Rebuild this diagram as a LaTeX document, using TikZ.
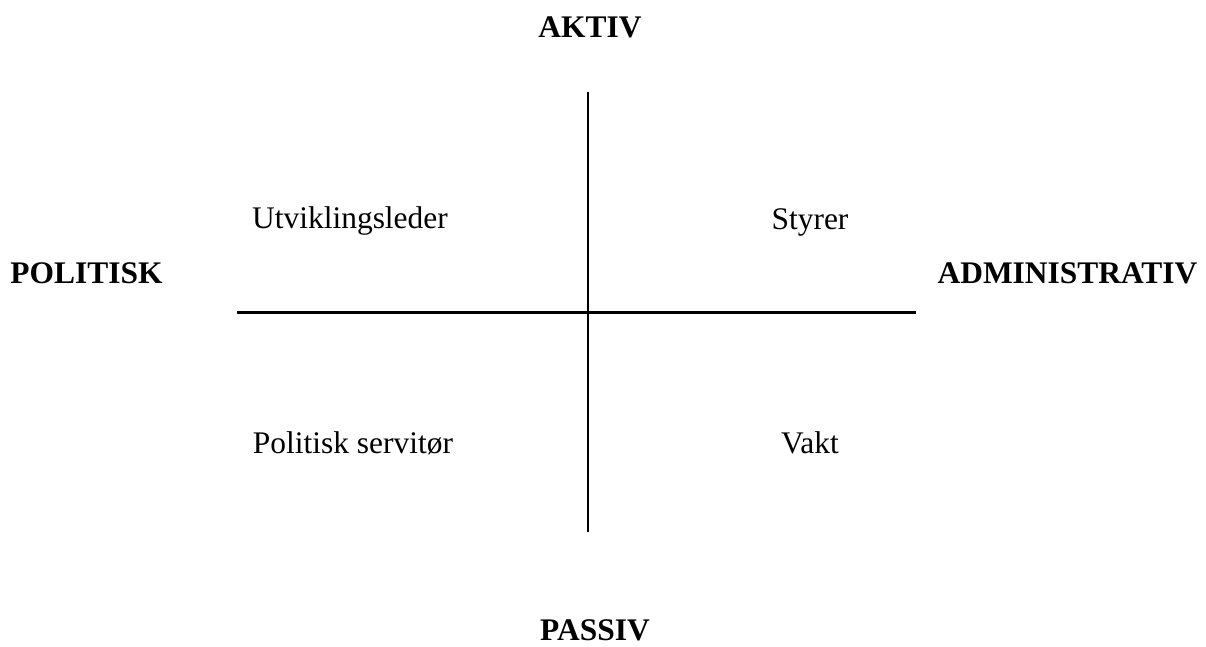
\documentclass[tikz,border=0pt]{standalone}
\usepackage{fontspec}
\setmainfont{Liberation Serif}
\begin{document}
\begin{tikzpicture}[x=0.02cm,y=-0.02cm,
  axislabel/.style={anchor=base,inner sep=0pt,font=\fontsize{17.9}{20}\selectfont\bfseries},
  quadlabel/.style={anchor=base,inner sep=0pt,font=\fontsize{17.9}{20}\selectfont},
  axisline/.style={draw=black,line width=1.25pt}]
\useasboundingbox (0,0) rectangle (1206,646);
\node[axislabel] (aktiv) at (590,37) {AKTIV};
\node[axislabel] (passiv) at (595,640) {PASSIV};
\node[axislabel] (politisk) at (86.5,283) {POLITISK};
\node[axislabel] (admin) at (1067.5,283) {ADMINISTRATIV};
\node[quadlabel] (utv) at (350,228) {Utviklingsleder};
\node[quadlabel] (sty) at (810,229) {Styrer};
\node[quadlabel] (pol) at (353,453) {Politisk servitør};
\node[quadlabel] (vakt) at (810,453) {Vakt};
\coordinate (vtop) at (588,92);
\coordinate (vbot) at (588,532);
\coordinate (hleft) at (237,312.5);
\coordinate (hright) at (916,312.5);
\draw[axisline] (vtop) -- (vbot);
\draw[axisline] (hleft) -- (hright);
\end{tikzpicture}
\end{document}
